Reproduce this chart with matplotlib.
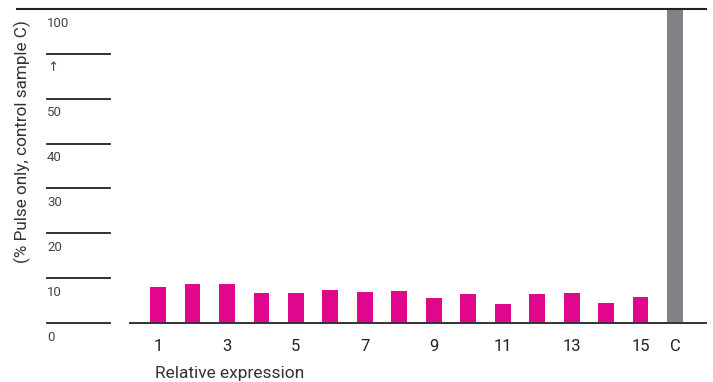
import matplotlib
matplotlib.use('Agg')
import matplotlib.pyplot as plt
from matplotlib.transforms import blended_transform_factory

plt.rcParams['font.family'] = ['Roboto', 'DejaVu Sans']

categories = ['1', '2', '3', '4', '5', '6', '7', '8', '9', '10', '11', '12', '13', '14', '15', 'C']
values = [8.0, 8.8, 8.6, 6.6, 6.6, 7.3, 6.8, 7.1, 5.5, 6.4, 4.2, 6.4, 6.6, 4.4, 5.7, 100]
shown_xlabels = ['1', '3', '5', '7', '9', '11', '13', '15', 'C']
ytick_values = [0, 10, 20, 30, 40, 50, 60, 70]
ytick_labels = ['0', '10', '20', '30', '40', '50', '\u2191', '100']
ylabel = '(% Pulse only, control sample C)'
xlabel = 'Relative expression'

W, H = 713, 382
fig = plt.figure(figsize=(W / 100, H / 100), dpi=100)
ax = fig.add_axes([130 / W, (H - 323) / H, 576 / W, 314 / H])

pink = '#E0078C'
grey = '#808285'
colors = [grey if c == 'C' else pink for c in categories]
xpos = list(range(1, len(categories) + 1))
ax.bar(xpos, values, width=0.46, color=colors, zorder=2)

ax.set_xlim(0.186, 16.9)
ax.set_ylim(0, 70)
for s in ['left', 'right', 'top']:
    ax.spines[s].set_visible(False)
ax.spines['bottom'].set_color('#333333')
ax.spines['bottom'].set_linewidth(1.4)
ax.set_yticks([])

tick_pos = [xpos[categories.index(c)] for c in shown_xlabels]
ax.set_xticks(tick_pos)
ax.set_xticklabels(shown_xlabels, fontsize=12, color='#222222')
ax.tick_params(axis='x', length=0, pad=11.5)

trans = blended_transform_factory(fig.transFigure, ax.transData)
for v, lbl in zip(ytick_values, ytick_labels):
    if v == 70:
        ax.plot([17 / W, 706 / W], [v, v], transform=trans, color='#222222', lw=1.5, clip_on=False)
    else:
        ax.plot([47 / W, 110 / W], [v, v], transform=trans, color='#222222', lw=1.3, clip_on=False)
    ax.annotate(lbl, xy=(47 / W, v), xycoords=trans, xytext=(0, -5.5), textcoords='offset points',
                ha='left', va='top', fontsize=9.5, color='#444444', annotation_clip=False)

fig.text(22 / W, (H - 142) / H, ylabel, rotation=90, ha='center', va='center', fontsize=12.3, color='#333333')
fig.text(155 / W, (H - 378) / H, xlabel, ha='left', va='baseline', fontsize=12.5, color='#333333')

fig.savefig('out.png', dpi=100)
